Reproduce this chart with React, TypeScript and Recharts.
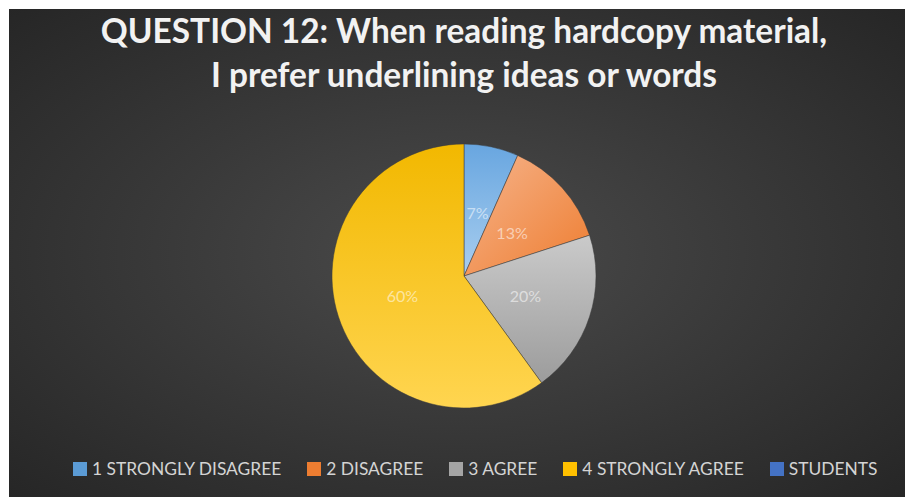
import React from 'react';
import { PieChart, Pie, Cell, Legend, Customized } from 'recharts';

const categories = ['1 STRONGLY DISAGREE', '2 DISAGREE', '3 AGREE', '4 STRONGLY AGREE'];
const studentCounts = [2, 4, 6, 18];
const percentLabels = ['7%', '13%', '20%', '60%'];
const seriesName = 'STUDENTS';
const titleLines = ['QUESTION 12: When reading hardcopy material,', 'I prefer underlining ideas or words'];

const sliceGradients = [
  { id: 'g0', from: '#68A6E0', to: '#A9CEEF', x1: '0', y1: '0', x2: '0', y2: '1' },
  { id: 'g1', from: '#F6B48C', to: '#EE7D30', x1: '0', y1: '0', x2: '1', y2: '1' },
  { id: 'g2', from: '#CACACA', to: '#9C9C9C', x1: '0', y1: '0', x2: '0', y2: '1' },
  { id: 'g3', from: '#F2B800', to: '#FFD550', x1: '0', y1: '0', x2: '0', y2: '1' },
];
const legendColors = ['#5B9BD5', '#ED7D31', '#A5A5A5', '#FFC000', '#4472C4'];

const data = categories.map((name, i) => ({ name, value: studentCounts[i], pct: percentLabels[i] }));

const W = 896;
const H = 488;
const CX = 455;
const CY = 267;
const R = 132;
const RAD = Math.PI / 180;

const renderLabel = (props: any) => {
  const { cx, cy, midAngle, outerRadius, index } = props;
  const r = outerRadius * 0.49;
  const x = cx + r * Math.cos(-midAngle * RAD);
  const y = cy + r * Math.sin(-midAngle * RAD);
  return (
    <text
      x={x}
      y={y}
      textAnchor="middle"
      dominantBaseline="central"
      fill="#FFFFFF"
      fillOpacity={0.55}
      fontFamily="Lato, sans-serif"
      fontSize={16}
    >
      {data[index].pct}
    </text>
  );
};

const Title = () => (
  <g>
    {titleLines.map((t, i) => (
      <text
        key={i}
        x={CX}
        y={34 + i * 44}
        textAnchor="middle"
        fill="#F2F2F2"
        fontFamily="Lato, sans-serif"
        fontWeight={700}
        fontSize={33.4}
      >
        {t}
      </text>
    ))}
  </g>
);

const legendItems = [...categories, seriesName];

const LegendContent = () => (
  <div style={{ display: 'flex', alignItems: 'center', paddingLeft: 64 }}>
    {legendItems.map((name, i) => (
      <div key={name} style={{ display: 'flex', alignItems: 'center', marginRight: 26 }}>
        <div style={{ width: 14, height: 14, background: legendColors[i], marginRight: 5 }} />
        <span
          style={{
            color: '#D4D4D4',
            fontFamily: 'Lato, sans-serif',
            fontSize: 17.4,
            lineHeight: '18px',
          }}
        >
          {name}
        </span>
      </div>
    ))}
  </div>
);

export default function App() {
  return (
    <div
      style={{
        position: 'absolute',
        left: 9,
        top: 9,
        width: W,
        height: H,
        background: 'radial-gradient(ellipse at 50% 50%, #4B4B4B 0%, #3A3A3A 45%, #262626 100%)',
      }}
    >
      <PieChart width={W} height={H} margin={{ top: 0, right: 0, bottom: 0, left: 0 }}>
        <defs>
          {sliceGradients.map((g) => (
            <linearGradient key={g.id} id={g.id} x1={g.x1} y1={g.y1} x2={g.x2} y2={g.y2}>
              <stop offset="0%" stopColor={g.from} />
              <stop offset="100%" stopColor={g.to} />
            </linearGradient>
          ))}
        </defs>
        <Customized component={Title} />
        <Pie
          data={data}
          dataKey="value"
          nameKey="name"
          cx={CX}
          cy={CY}
          outerRadius={R}
          startAngle={90}
          endAngle={-270}
          stroke="#3a3a3a"
          strokeWidth={0.5}
          label={renderLabel}
          labelLine={false}
          isAnimationActive={false}
        >
          {data.map((d, i) => (
            <Cell key={d.name} fill={`url(#${sliceGradients[i].id})`} />
          ))}
        </Pie>
        <Legend
          content={<LegendContent />}
          wrapperStyle={{ position: 'absolute', left: 0, top: 451, width: W }}
        />
      </PieChart>
    </div>
  );
}
